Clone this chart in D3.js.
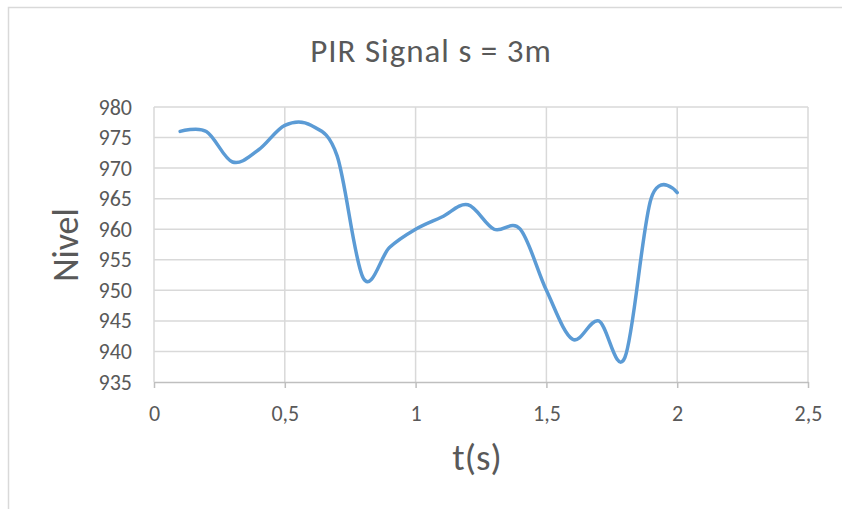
<!DOCTYPE html>
<html>
<head>
<meta charset="utf-8">
<script src="https://cdn.jsdelivr.net/npm/d3@7/dist/d3.min.js"></script>
<style>
  html, body { margin: 0; padding: 0; background: #fff; }
  svg { display: block; }
  text { font-family: Carlito, Calibri, "Open Sans", "Liberation Sans", sans-serif; fill: #595959; }
</style>
</head>
<body>
<svg id="chart" width="842" height="509"></svg>
<script>
// PIR sensor reading over time, s = 3 m
const times  = [0.1, 0.2, 0.3, 0.4, 0.5, 0.6, 0.7, 0.8, 0.9, 1.0,
                1.1, 1.2, 1.3, 1.4, 1.5, 1.6, 1.7, 1.8, 1.9, 2.0];
const levels = [976, 976, 971, 973, 977, 977, 972, 952, 957, 960,
                962, 964, 960, 960, 950, 942, 945, 939, 965, 966];
const xTicks = [0, 0.5, 1, 1.5, 2, 2.5];
const yTicks = [935, 940, 945, 950, 955, 960, 965, 970, 975, 980];

const title  = "PIR Signal s = 3m";
const xTitle = "t(s)";
const yTitle = "Nivel";

const svg = d3.select("#chart");
const plot = { left: 154, right: 808, top: 107, bottom: 382 };

const x = d3.scaleLinear().domain([0, 2.5]).range([plot.left, plot.right]);
const y = d3.scaleLinear().domain([935, 980]).range([plot.bottom, plot.top]);
const fmt = d => String(d).replace(".", ",");

// chart frame
svg.append("rect")
  .attr("x", 8.5).attr("y", 7.5)
  .attr("width", 900).attr("height", 600)
  .attr("fill", "#fff").attr("stroke", "#D9D9D9").attr("stroke-width", 1.5);

// gridlines
const grid = svg.append("g").attr("stroke", "#D9D9D9").attr("stroke-width", 1.5);
grid.selectAll("line.h").data(yTicks.filter(d => d !== 935)).join("line")
  .attr("x1", plot.left).attr("x2", plot.right)
  .attr("y1", d => y(d)).attr("y2", d => y(d));
grid.selectAll("line.v").data(xTicks).join("line")
  .attr("x1", d => x(d)).attr("x2", d => x(d))
  .attr("y1", plot.top).attr("y2", plot.bottom);

// x axis
const xAxis = svg.append("g")
  .attr("transform", `translate(0,${plot.bottom})`)
  .call(d3.axisBottom(x).tickValues(xTicks).tickFormat(fmt).tickSize(6).tickSizeOuter(0).tickPadding(17));
xAxis.select(".domain").attr("stroke", "#BFBFBF").attr("stroke-width", 1.5);
xAxis.selectAll(".tick line").attr("stroke", "#BFBFBF").attr("stroke-width", 1.5);
xAxis.selectAll(".tick text").style("font-size", "22px").attr("fill", "#595959");

// y axis
const yAxis = svg.append("g")
  .attr("transform", `translate(${plot.left},0)`)
  .call(d3.axisLeft(y).tickValues(yTicks).tickSize(0).tickPadding(22));
yAxis.select(".domain").remove();
yAxis.selectAll(".tick text").style("font-size", "22px").attr("fill", "#595959");

// signal curve
const line = d3.line()
  .x((d, i) => x(times[i]))
  .y(d => y(d))
  .curve(d3.curveCatmullRom.alpha(0));
svg.append("path")
  .datum(levels)
  .attr("d", line)
  .attr("fill", "none")
  .attr("stroke", "#5B9BD5")
  .attr("stroke-width", 3.5)
  .attr("stroke-linecap", "round")
  .attr("stroke-linejoin", "round");

// titles
svg.append("text").attr("x", 431).attr("y", 62)
  .attr("text-anchor", "middle").style("font-size", "33px").style("letter-spacing", "1px")
  .text(title);
svg.append("text").attr("x", 477).attr("y", 470)
  .attr("text-anchor", "middle").style("font-size", "37px")
  .text(xTitle);
svg.append("text")
  .attr("transform", `translate(78,245) rotate(-90)`)
  .attr("text-anchor", "middle").style("font-size", "36px")
  .text(yTitle);
</script>
</body>
</html>
